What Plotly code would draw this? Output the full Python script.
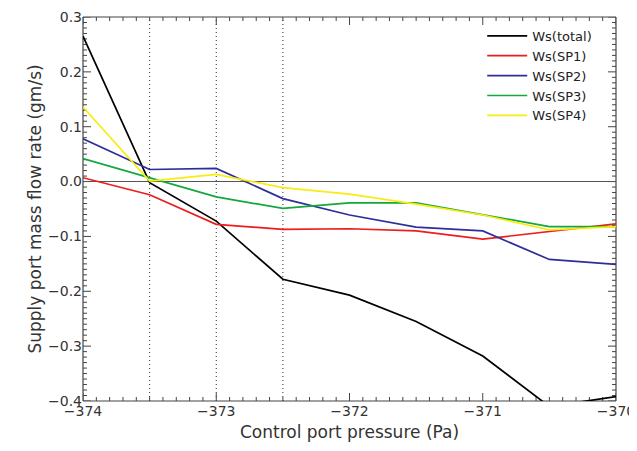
import plotly.graph_objects as go

pressure = [-374, -373.5, -373, -372.5, -372, -371.5, -371, -370.5, -370]
ws_total = [0.265, -0.002, -0.072, -0.178, -0.207, -0.255, -0.318, -0.41, -0.392]
ws_sp1 = [0.007, -0.024, -0.078, -0.087, -0.086, -0.090, -0.105, -0.091, -0.077]
ws_sp2 = [0.078, 0.022, 0.024, -0.031, -0.061, -0.083, -0.090, -0.142, -0.151]
ws_sp3 = [0.042, 0.007, -0.028, -0.049, -0.039, -0.039, -0.061, -0.082, -0.082]
ws_sp4 = [0.136, 0.001, 0.013, -0.011, -0.023, -0.041, -0.061, -0.088, -0.082]
series_names = ["Ws(total)", "Ws(SP1)", "Ws(SP2)", "Ws(SP3)", "Ws(SP4)"]
series_colors = ["#000000", "#ee1c1c", "#2e2e9a", "#12a83c", "#f8ec10"]
vlines_x = [-373.5, -373, -372.5]
x_limits = [-374, -370]
y_limits = [-0.4, 0.3]

W, H = 629, 443
ML, MR, MT, MB = 75, 21, 9, 50
PW, PH = W - ML - MR, H - MT - MB
AX = "#444444"

fig = go.Figure()
for name, vals, col in zip(series_names, [ws_total, ws_sp1, ws_sp2, ws_sp3, ws_sp4], series_colors):
    fig.add_trace(go.Scatter(x=pressure, y=vals, mode="lines", name=name,
                             line=dict(color=col, width=1.7)))

for vx in vlines_x:
    fig.add_shape(type="line", xref="x", yref="paper", x0=vx, x1=vx, y0=0, y1=1,
                  line=dict(color="#333333", width=1, dash="1px,3px"), layer="below")

# plot frame
for (x0, x1, y0, y1) in ((0, 1, 0, 0), (0, 1, 1, 1), (0, 0, 0, 1), (1, 1, 0, 1)):
    fig.add_shape(type="line", xref="paper", yref="paper", x0=x0, x1=x1, y0=y0, y1=y1,
                  line=dict(color=AX, width=1.2), layer="below")

# x-axis ticks (bottom and top, inward), major every 1, minor every 0.1
for i in range(0, 41):
    xv = x_limits[0] + i * 0.1
    frac = (8 if i % 10 == 0 else 4) / PH
    for base, sign in ((0, 1), (1, -1)):
        fig.add_shape(type="line", xref="x", yref="paper", x0=xv, x1=xv,
                      y0=base, y1=base + sign * frac, line=dict(color=AX, width=1), layer="below")

# y-axis ticks (left and right, inward), major every 0.1, minor every 0.01
for j in range(0, 71):
    yv = y_limits[0] + j * 0.01
    frac = (8 if j % 10 == 0 else 4) / PW
    for base, sign in ((0, 1), (1, -1)):
        fig.add_shape(type="line", xref="paper", yref="y", x0=base, x1=base + sign * frac,
                      y0=yv, y1=yv, line=dict(color=AX, width=1), layer="below")

font_family = "DejaVu Sans, Liberation Sans, sans-serif"
fig.update_layout(
    width=W, height=H,
    margin=dict(l=ML, r=MR, t=MT, b=MB, autoexpand=False),
    paper_bgcolor="white", plot_bgcolor="white",
    font=dict(family=font_family, size=14, color="#333333"),
    showlegend=True,
    legend=dict(x=0.749, y=0.99, xanchor="left", yanchor="top", itemwidth=40,
                bgcolor="rgba(0,0,0,0)", font=dict(size=13, color="#222222"),
                tracegroupgap=0),
    xaxis=dict(range=x_limits, tickmode="array",
               tickvals=[-374, -373, -372, -371, -370],
               ticktext=["\u2212374", "\u2212373", "\u2212372", "\u2212371", "\u2212370"],
               ticks="", showline=False, showgrid=False, zeroline=False,
               title=dict(text="Control port pressure (Pa)", standoff=8)),
    yaxis=dict(range=y_limits, tickmode="array",
               tickvals=[-0.4, -0.3, -0.2, -0.1, 0.0, 0.1, 0.2, 0.3],
               ticktext=["\u22120.4", "\u22120.3", "\u22120.2", "\u22120.1", "0.0", "0.1", "0.2", "0.3"],
               ticks="", showline=False, showgrid=False,
               zeroline=True, zerolinecolor="#555555", zerolinewidth=1.2,
               title=dict(text="Supply port mass flow rate (gm/s)", standoff=2)),
)

fig.write_html("out.html")
